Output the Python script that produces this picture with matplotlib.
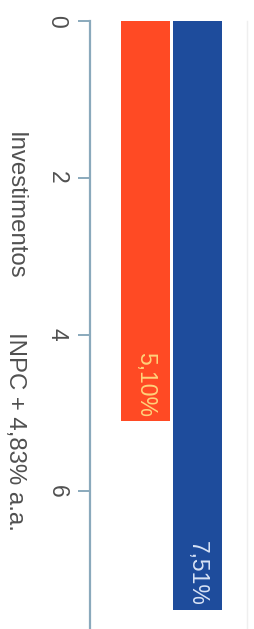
import matplotlib
matplotlib.use("Agg")
import matplotlib.pyplot as plt

plt.rcParams['font.family'] = ['Liberation Sans', 'DejaVu Sans']

categories = ["Investimentos", "INPC + 4,83% a.a."]
values = [5.10, 7.51]
value_labels = ["5,10%", "7,51%"]
bar_colors = ["#FF4A24", "#1E4C9C"]
label_colors = ["#FFD27A", "#D8E3F6"]
ticks = [0, 2, 4, 6]
tick_labels = ["0", "2", "4", "6"]

W, H = 255, 629
fig = plt.figure(figsize=(W / 100, H / 100), dpi=100)
fig.patch.set_facecolor("white")

ax = fig.add_axes([90 / W, 0.0, 157 / W, 1 - 21 / H])
positions = list(range(len(values)))
ax.bar(positions, values, width=0.94, color=bar_colors, align="center", linewidth=0)
ax.set_xlim(-1.067, 1.952)
ax.set_ylim(7.755, 0)

for spine in ["top", "bottom"]:
    ax.spines[spine].set_visible(False)
ax.spines["right"].set_color("#EFEFEF")
ax.spines["right"].set_linewidth(1.0)
ax.spines["left"].set_color("#8AA9BC")
ax.spines["left"].set_linewidth(1.6)

ax.set_xticks([])
ax.set_yticks(ticks)
ax.set_yticklabels(tick_labels)
ax.tick_params(axis="y", direction="out", length=8.5, width=1.4, color="#8AA9BC",
               pad=7, labelsize=16.5, labelcolor="#505050", labelrotation=-90)
for lbl in ax.get_yticklabels():
    lbl.set_ha("right")
    lbl.set_va("center")

for x, v, txt, c in zip(positions, values, value_labels, label_colors):
    ax.annotate(txt, xy=(x, v), xytext=(0, 3), textcoords="offset points",
                rotation=-90, ha="center", va="bottom", fontsize=16.5, color=c)

legend_tops = [132, 332]
for name, top in zip(categories, legend_tops):
    fig.text(15 / W, 1 - top / H, name, rotation=-90, ha="center", va="top",
             fontsize=17.3, color="#505050")

fig.savefig("out.png", dpi=100, facecolor="white")
